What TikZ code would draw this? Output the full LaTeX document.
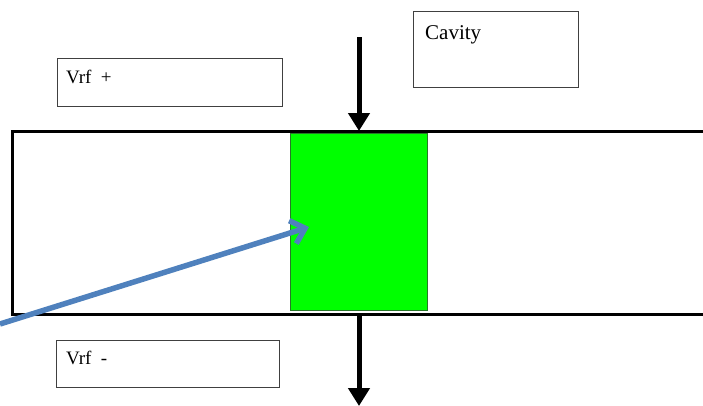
\documentclass[tikz,border=0pt]{standalone}
\usepackage{fontspec}
\setmainfont{Liberation Serif}
\usetikzlibrary{arrows.meta}
\definecolor{officeblue}{RGB}{79,129,189}
\definecolor{boxgray}{RGB}{64,64,64}
\definecolor{brightgreen}{RGB}{0,255,0}
\definecolor{greenedge}{RGB}{40,120,40}
\begin{document}
\begin{tikzpicture}[x=1pt,y=-1pt,
  labelbox/.style={draw=boxgray,line width=1pt,fill=white,inner sep=0pt,anchor=north west},
  lbl/.style={anchor=base west,inner sep=0pt},
  blackarrow/.style={line width=5pt,-{Triangle[width=21pt,length=18pt]}},
  bluearrow/.style={officeblue,line width=5.5pt,-{Straight Barb[width=24pt,length=13pt,line width=5.5pt]}}]
\useasboundingbox (0,0) rectangle (703,405);
% waveguide
\draw[line width=3pt] (705,131) -- (12,131) -- (12,314) -- (705,314);
% green cavity block
\node[draw=greenedge,line width=0.8pt,fill=brightgreen,inner sep=0pt,anchor=north west,minimum width=137pt,minimum height=177pt] (green) at (290,133) {};
% label boxes
\node[labelbox,minimum width=165pt,minimum height=76pt] (cavbox) at (413,11) {};
\node[lbl,font=\fontsize{21}{24}\selectfont] (cavtxt) at (425,39) {Cavity};
\node[labelbox,minimum width=225pt,minimum height=48pt] (vpbox) at (57,58) {};
\node[lbl,font=\fontsize{19}{22}\selectfont] (vptxt) at (66,83) {Vrf\ \ +};
\node[labelbox,minimum width=223pt,minimum height=47pt] (vmbox) at (56,340) {};
\node[lbl,font=\fontsize{19}{22}\selectfont] (vmtxt) at (66,364) {Vrf\ \ -};
% coordinates
\coordinate (topstart) at (359,37);
\coordinate (toptip) at (359,131);
\coordinate (botstart) at (359,314);
\coordinate (bottip) at (359,406);
\coordinate (bluestart) at (0,324);
\coordinate (bluetip) at (309,227);
% arrows
\draw[blackarrow] (topstart) -- (toptip);
\draw[blackarrow] (botstart) -- (bottip);
\draw[bluearrow] (bluestart) -- (bluetip);
\end{tikzpicture}
\end{document}
